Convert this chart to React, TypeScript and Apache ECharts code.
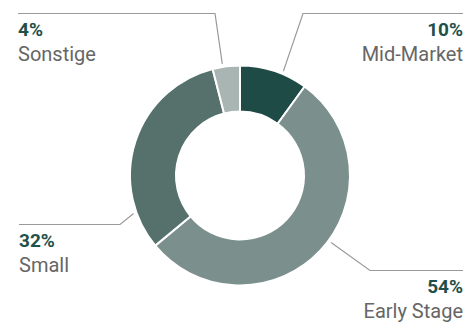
import React, { useEffect, useRef } from "react";
import * as echarts from "echarts";

const NAMES = ["Mid-Market", "Early Stage", "Small", "Sonstige"];
const VALUES = [10, 54, 32, 4];
const COLORS = ["#1f4b46", "#7b8f8c", "#56716b", "#a8b5b3"];

// layout of the leader lines / labels (not data)
const CENTER = [240, 175.5];
const RADII = [64, 110];
const ANCHOR_R = 113;
const LABEL_LAYOUT = [
  { angle: 67.4, elbow: [303, 13.5], end: [463, 13.5], align: "right" },
  { angle: -36.3, elbow: [370, 270.5], end: [463, 270.5], align: "right" },
  { angle: -160.3, elbow: [120, 224.5], end: [19, 224.5], align: "left" },
  { angle: 99, elbow: [215, 13.5], end: [18, 13.5], align: "left" },
];

export default function App() {
  const ref = useRef<HTMLDivElement>(null);
  useEffect(() => {
    if (!ref.current) return;
    const chart = echarts.init(ref.current, null, { renderer: "svg" });
    chart.setOption({
      animation: false,
      backgroundColor: "#ffffff",
      series: [
        {
          type: "pie",
          center: CENTER,
          radius: RADII,
          startAngle: 90,
          clockwise: true,
          avoidLabelOverlap: false,
          itemStyle: { borderColor: "#ffffff", borderWidth: 2 },
          emphasis: { disabled: true },
          data: NAMES.map((n, i) => ({
            name: n,
            value: VALUES[i],
            itemStyle: { color: COLORS[i] },
          })),
          label: {
            show: true,
            position: "outside",
            formatter: (p: any) => `{p|${p.value}%}\n{n|${p.name}}`,
            rich: {
              p: {
                fontFamily: "Roboto",
                fontWeight: "bold",
                fontSize: 19,
                color: "#1f5049",
                lineHeight: 24,
              },
              n: {
                fontFamily: "Roboto",
                fontSize: 20,
                color: "#666666",
                lineHeight: 26,
              },
            },
          },
          labelLine: {
            show: true,
            lineStyle: { color: "#9a9a9a", width: 1.2 },
          },
          labelLayout: (params: any) => {
            const l = LABEL_LAYOUT[params.dataIndex];
            const a = (l.angle * Math.PI) / 180;
            const start = [
              CENTER[0] + ANCHOR_R * Math.cos(a),
              CENTER[1] - ANCHOR_R * Math.sin(a),
            ];
            return {
              x: l.end[0],
              y: l.end[1] + 3.5,
              align: l.align,
              verticalAlign: "top",
              labelLinePoints: [start, l.elbow, l.end],
            };
          },
        },
      ],
    });
    return () => chart.dispose();
  }, []);
  return (
    <div
      ref={ref}
      style={{ position: "fixed", left: 0, top: 0, width: 465, height: 322 }}
    />
  );
}
